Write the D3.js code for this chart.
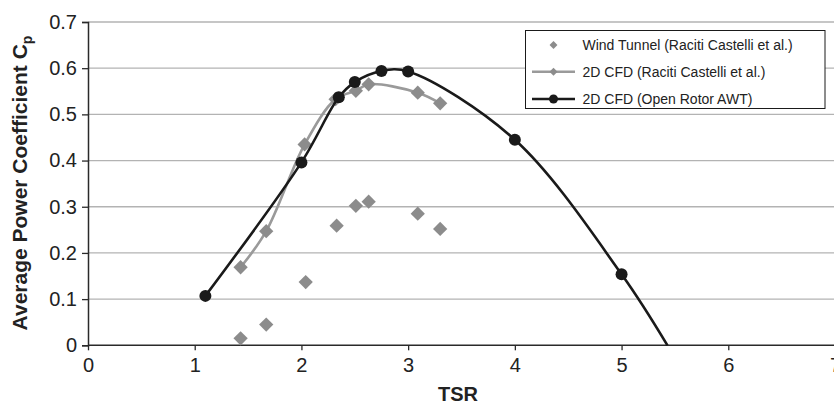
<!DOCTYPE html>
<html>
<head>
<meta charset="utf-8">
<script src="https://cdn.jsdelivr.net/npm/d3@7"></script>
<style>
  html, body { margin: 0; padding: 0; background: #fff; }
  svg { display: block; font-family: "Liberation Sans", Arial, sans-serif; }
</style>
</head>
<body>
<svg id="chart" width="834" height="405"></svg>
<script>
// ---- data ----
const xTicks = [0, 1, 2, 3, 4, 5, 6, 7];
const yTicks = [0, 0.1, 0.2, 0.3, 0.4, 0.5, 0.6, 0.7];

const windTunnelTSR = [1.43, 1.67, 2.04, 2.33, 2.51, 2.63, 3.09, 3.30];
const windTunnelCp  = [0.015, 0.045, 0.137, 0.259, 0.302, 0.311, 0.285, 0.252];

const cfdRacitiTSR = [1.43, 1.67, 2.03, 2.32, 2.51, 2.63, 3.09, 3.30];
const cfdRacitiCp  = [0.169, 0.247, 0.435, 0.533, 0.551, 0.565, 0.547, 0.524];

const cfdAwtTSR = [1.10, 2.00, 2.35, 2.50, 2.75, 3.00, 4.00, 5.00];
const cfdAwtCp  = [0.107, 0.396, 0.537, 0.570, 0.594, 0.593, 0.445, 0.154];
// curve continues until it meets the axis (no marker)
const cfdAwtTailTSR = [5.43];
const cfdAwtTailCp  = [0.0];

const legendLabels = [
  "Wind Tunnel (Raciti Castelli et al.)",
  "2D CFD (Raciti Castelli et al.)",
  "2D CFD (Open Rotor AWT)"
];

// ---- layout ----
const svg = d3.select("#chart");
const x = d3.scaleLinear().domain([0, 7]).range([88, 835]);
const y = d3.scaleLinear().domain([0, 0.7]).range([345.3, 22]);

const gridColor = "#b3b3b3";
const axisColor = "#2a2a2a";
const textColor = "#222";
const grayLine = "#9a9a9a";
const grayMarker = "#8c8c8c";
const black = "#1a1a1a";

// gridlines
svg.append("g").selectAll("line")
  .data(yTicks.filter(d => d > 0))
  .join("line")
  .attr("x1", x(0)).attr("x2", 834)
  .attr("y1", d => y(d)).attr("y2", d => y(d))
  .attr("stroke", gridColor).attr("stroke-width", 1.3);

// y axis
const yAxis = svg.append("g")
  .attr("transform", `translate(${x(0)},0)`)
  .call(d3.axisLeft(y).tickValues(yTicks).tickSize(6).tickPadding(5)
    .tickFormat(d => d === 0 ? "0" : d3.format(".1f")(d)));
yAxis.select(".domain").attr("stroke", axisColor).attr("stroke-width", 1.5);
yAxis.selectAll(".tick line").attr("stroke", axisColor).attr("stroke-width", 1.3);
yAxis.selectAll(".tick text").attr("fill", textColor)
  .style("font-size", "20px").style("font-family", "Liberation Sans, Arial, sans-serif");

// x axis
const xAxis = svg.append("g")
  .attr("transform", `translate(0,${y(0)})`)
  .call(d3.axisBottom(x).tickValues(xTicks).tickSize(5).tickPadding(8)
    .tickFormat(d3.format("d")));
xAxis.select(".domain").attr("stroke", axisColor).attr("stroke-width", 1.5)
  .attr("d", `M${x(0)},0H834`);
xAxis.selectAll(".tick line").attr("stroke", axisColor).attr("stroke-width", 1.3);
xAxis.selectAll(".tick text").attr("fill", textColor)
  .style("font-size", "20px").style("font-family", "Liberation Sans, Arial, sans-serif");

// axis titles
svg.append("text")
  .attr("x", 458).attr("y", 401)
  .attr("text-anchor", "middle")
  .attr("fill", textColor)
  .style("font-size", "20px").style("font-weight", "bold")
  .text("TSR");

const yt = svg.append("text")
  .attr("transform", "translate(27,183) rotate(-90)")
  .attr("text-anchor", "middle")
  .attr("fill", textColor)
  .style("font-size", "21px").style("font-weight", "bold");
yt.append("tspan").text("Average Power Coefficient C");
yt.append("tspan").attr("dy", 5).style("font-size", "14px").text("p");

// clip to plot
svg.append("clipPath").attr("id", "plotclip")
  .append("rect").attr("x", x(0)).attr("y", 0).attr("width", 834 - x(0)).attr("height", y(0) + 1);

const plot = svg.append("g").attr("clip-path", "url(#plotclip)");

const diamond = d3.symbol().type(d3.symbolDiamond2);

// wind tunnel markers
const wt = windTunnelTSR.map((t, i) => [t, windTunnelCp[i]]);
plot.append("g").selectAll("path")
  .data(wt).join("path")
  .attr("d", diamond.size(130)())
  .attr("transform", d => `translate(${x(d[0])},${y(d[1])})`)
  .attr("fill", grayMarker);

// CFD Raciti line
const cr = cfdRacitiTSR.map((t, i) => [t, cfdRacitiCp[i]]);
const lineGen = d3.line().x(d => x(d[0])).y(d => y(d[1])).curve(d3.curveCatmullRom.alpha(0.5));
plot.append("path").datum(cr)
  .attr("d", lineGen).attr("fill", "none")
  .attr("stroke", grayLine).attr("stroke-width", 2.6);
plot.append("g").selectAll("path")
  .data(cr).join("path")
  .attr("d", diamond.size(130)())
  .attr("transform", d => `translate(${x(d[0])},${y(d[1])})`)
  .attr("fill", grayMarker);

// CFD AWT line
const aw = cfdAwtTSR.map((t, i) => [t, cfdAwtCp[i]]);
const awFull = aw.concat(cfdAwtTailTSR.map((t, i) => [t, cfdAwtTailCp[i]]));
plot.append("path").datum(awFull)
  .attr("d", lineGen).attr("fill", "none")
  .attr("stroke", black).attr("stroke-width", 2.6);
plot.append("g").selectAll("circle")
  .data(aw).join("circle")
  .attr("cx", d => x(d[0])).attr("cy", d => y(d[1]))
  .attr("r", 6).attr("fill", black);

// legend
const lg = svg.append("g");
lg.append("rect")
  .attr("x", 525.5).attr("y", 30.5).attr("width", 299.5).attr("height", 78)
  .attr("fill", "#fff").attr("stroke", "#1a1a1a").attr("stroke-width", 1);
const rowsY = [45, 71.7, 99];
legendLabels.forEach((lab, i) => {
  const ry = rowsY[i];
  if (i === 1) {
    lg.append("line").attr("x1", 532).attr("x2", 575).attr("y1", ry).attr("y2", ry)
      .attr("stroke", grayLine).attr("stroke-width", 2.6);
  }
  if (i === 2) {
    lg.append("line").attr("x1", 532).attr("x2", 575).attr("y1", ry).attr("y2", ry)
      .attr("stroke", black).attr("stroke-width", 2.6);
    lg.append("circle").attr("cx", 553.5).attr("cy", ry).attr("r", 4.5).attr("fill", black);
  } else {
    lg.append("path").attr("d", diamond.size(40)())
      .attr("transform", `translate(553.5,${ry})`).attr("fill", grayMarker);
  }
  lg.append("text").attr("x", 582.5).attr("y", ry + 5)
    .attr("fill", textColor).style("font-size", "14px").text(lab);
});
</script>
</body>
</html>
